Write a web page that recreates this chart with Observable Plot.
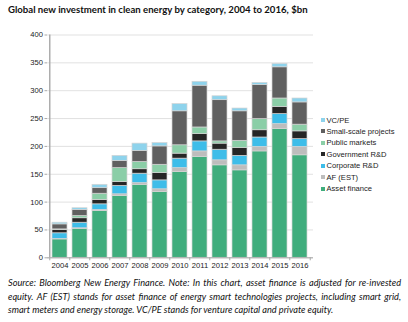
<!DOCTYPE html>
<html>
<head>
<meta charset="utf-8">
<script src="https://cdn.jsdelivr.net/npm/d3@7"></script>
<script src="https://cdn.jsdelivr.net/npm/@observablehq/plot@0.6"></script>
<style>
  html, body { margin: 0; padding: 0; background: #fff; }
  #wrap { position: relative; width: 408px; height: 322px; overflow: hidden; font-family: "Liberation Sans", Arial, sans-serif; }
  #title { position: absolute; left: 8px; top: 4px; font: bold 9.6px Lato, "Open Sans", sans-serif; color: #111; white-space: nowrap; }
  #chart { position: absolute; left: 0; top: 0; }
  #legend { position: absolute; left: 321px; top: 114.5px; font-size: 7.6px; color: #222; }
  #legend .item { height: 11.45px; line-height: 11.45px; white-space: nowrap; }
  #legend .sw { display: inline-block; width: 4px; height: 4px; margin-right: 1.5px; vertical-align: 0.5px; }
  #caption { position: absolute; left: 8px; top: 276px; width: 393px; font: italic 9.2px Lato, "Open Sans", sans-serif; line-height: 13.5px; color: #111; text-align: justify; }
</style>
</head>
<body>
<div id="wrap">
  <div id="chart"></div>
  <div id="title"></div>
  <div id="legend"></div>
  <div id="caption"></div>
</div>
<script>
// ---- data ----
const years = ["2004","2005","2006","2007","2008","2009","2010","2011","2012","2013","2014","2015","2016"];
const seriesNames = ["Asset finance","AF (EST)","Corporate R&D","Government R&D","Public markets","Small-scale projects","VC/PE"];
const assetFinance  = [33, 52, 84, 111, 131, 118, 154, 181, 166, 157, 191, 231, 184];
const afEst         = [1, 1, 2, 3, 3, 5, 7, 10, 9, 9, 8, 9, 15];
const corporateRD   = [10, 10, 10, 15, 17, 16, 17, 18, 19, 17, 17, 18, 14];
const governmentRD  = [6, 8, 8, 7, 8, 13, 9, 13, 11, 14, 13, 13, 14];
const publicMarkets = [1, 4, 11, 25, 13, 15, 15, 12, 4, 13, 20, 15, 12];
const smallScale    = [9, 11, 10, 13, 20, 33, 61, 75, 74, 53, 61, 56, 40];
const vcpe          = [3, 3, 6, 9, 13, 6, 13, 7, 7, 5, 4, 6, 7];
const yTicks = [0, 50, 100, 150, 200, 250, 300, 350, 400];
const colors = ["#40ad7d", "#bdbdbd", "#3ebde9", "#262626", "#8bcea7", "#606060", "#8ed3ec"];
const titleText = "Global new investment in clean energy by category, 2004 to 2016, $bn";
const captionText = "Source: Bloomberg New Energy Finance. Note: In this chart, asset finance is adjusted for re-invested equity. AF (EST) stands for asset finance of energy smart technologies projects, including smart grid, smart meters and energy storage. VC/PE stands for venture capital and private equity.";

const seriesValues = [assetFinance, afEst, corporateRD, governmentRD, publicMarkets, smallScale, vcpe];
const rows = [];
seriesNames.forEach((s, i) => years.forEach((y, j) => rows.push({year: y, series: s, value: seriesValues[i][j]})));

const W = 408, mL = 47, mR = 95;
const step = (W - mL - mR) / years.length;

const chart = Plot.plot({
  width: W,
  height: 272,
  marginLeft: mL,
  marginRight: mR,
  marginTop: 34.5,
  marginBottom: 14.7,
  style: {fontFamily: "'Liberation Sans', Arial, sans-serif", fontSize: "7.6px", color: "#222", background: "transparent"},
  x: {domain: years, padding: 0.24, label: null},
  y: {domain: [0, 400], label: null},
  color: {domain: seriesNames, range: colors},
  marks: [
    Plot.gridY(yTicks, {stroke: "#d9d9d9", strokeOpacity: 1, strokeWidth: 0.8}),
    Plot.barY(rows, Plot.stackY({order: seriesNames}, {x: "year", y: "value", fill: "series", stroke: "#d4d4d4", strokeWidth: 0.7})),
    Plot.ruleY([0], {stroke: "#a8a8a8", strokeWidth: 1}),
    Plot.ruleX([years[0]], {dx: -step / 2, stroke: "#a8a8a8", strokeWidth: 1.4}),
    Plot.axisY({ticks: yTicks, tickSize: 2.5, tickPadding: 2, stroke: "#a8a8a8"}),
    Plot.axisX({tickSize: 0, tickPadding: 5}),
    Plot.axisX({tickSize: 3, dx: -step / 2, tickFormat: () => "", stroke: "#a8a8a8"}),
    Plot.axisX({ticks: [years[years.length - 1]], tickSize: 3, dx: step / 2, tickFormat: () => "", stroke: "#a8a8a8"})
  ]
});
document.getElementById("chart").appendChild(chart);
document.getElementById("title").textContent = titleText;
document.getElementById("caption").textContent = captionText;

const legend = document.getElementById("legend");
seriesNames.slice().reverse().forEach((s) => {
  const i = seriesNames.indexOf(s);
  const item = document.createElement("div");
  item.className = "item";
  const sw = document.createElement("span");
  sw.className = "sw";
  sw.style.background = colors[i];
  item.appendChild(sw);
  item.appendChild(document.createTextNode(s));
  legend.appendChild(item);
});
</script>
</body>
</html>
